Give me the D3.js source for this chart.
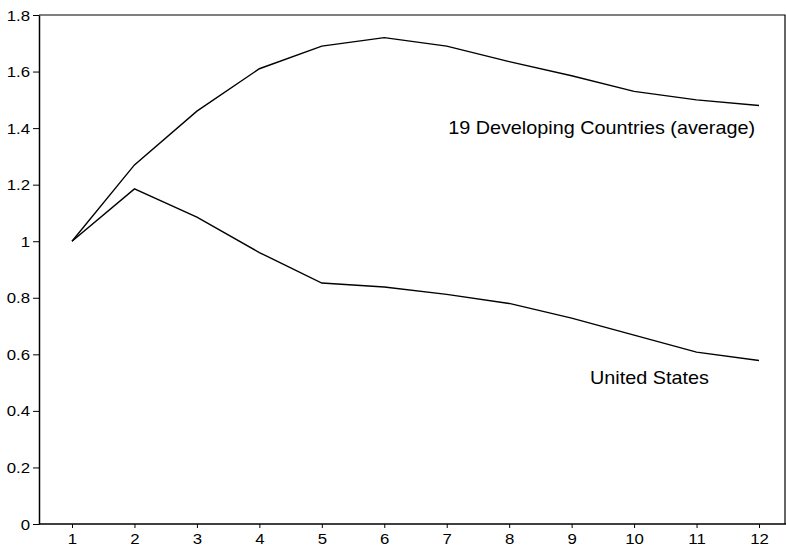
<!DOCTYPE html>
<html>
<head>
<meta charset="utf-8">
<script src="https://cdn.jsdelivr.net/npm/d3@7"></script>
<style>
  body { margin: 0; background: #fff; }
  text { font-family: "Liberation Sans", Arial, sans-serif; fill: #000; }
</style>
</head>
<body>
<div id="chart"></div>
<script>
var periods = [1, 2, 3, 4, 5, 6, 7, 8, 9, 10, 11, 12]
var developing = [1.0, 1.27, 1.46, 1.61, 1.69, 1.72, 1.69, 1.635, 1.585, 1.53, 1.50, 1.48]
var unitedStates = [1.0, 1.185, 1.085, 0.96, 0.852, 0.838, 0.812, 0.78, 0.728, 0.668, 0.608, 0.578]
var yTicks = [0, 0.2, 0.4, 0.6, 0.8, 1, 1.2, 1.4, 1.6, 1.8]
var seriesLabels = ["19 Developing Countries (average)", "United States"]

var width = 786, height = 546
var margin = {left: 39, right: 785, top: 15, bottom: 524}
var stretch = "scale(1.2,1)"

var svg = d3.select("#chart").append("svg")
    .attr("width", width)
    .attr("height", height)

var x = d3.scaleLinear().domain([1, 12]).range([72, 759])
var y = d3.scaleLinear().domain([0, 1.8]).range([margin.bottom, margin.top])

// frame (top and right side)
svg.append("path")
  .attr("d", "M" + margin.left + "," + margin.top + "H" + margin.right + "V" + margin.bottom)
  .attr("fill", "none")
  .attr("stroke", "#000")
  .attr("stroke-width", 1.2)

// y axis
var yAxis = svg.append("g")
    .attr("transform", "translate(" + margin.left + ",0)")
    .call(d3.axisLeft(y).tickValues(yTicks).tickSize(6).tickSizeOuter(0)
      .tickFormat(function(d) { return String(+d.toFixed(1)) }))
yAxis.select(".domain").attr("stroke-width", 1.5)
yAxis.selectAll("text")
    .attr("x", null).attr("dy", null)
    .attr("font-size", "14px")
    .attr("font-family", "Liberation Sans, Arial, sans-serif")
    .attr("transform", "translate(-9,5) " + stretch)

// x axis
var xAxis = svg.append("g")
    .attr("transform", "translate(0," + margin.bottom + ")")
    .call(d3.axisBottom(x).tickValues(periods).tickSize(4).tickSizeOuter(0))
xAxis.select(".domain").attr("d", "M" + margin.left + ",0H" + width).attr("stroke-width", 1.5)
xAxis.selectAll("text")
    .attr("y", null).attr("dy", null)
    .attr("font-size", "14px")
    .attr("font-family", "Liberation Sans, Arial, sans-serif")
    .attr("transform", "translate(0,20) " + stretch)

var line = d3.line()
  .x(function(d, i) { return x(periods[i]) })
  .y(function(d) { return y(d) })

svg.append("path")
  .datum(developing)
  .attr("fill", "none")
  .attr("stroke", "#000")
  .attr("stroke-width", 1.4)
  .attr("d", line)

svg.append("path")
  .datum(unitedStates)
  .attr("fill", "none")
  .attr("stroke", "#000")
  .attr("stroke-width", 1.4)
  .attr("d", line)

svg.append("text")
  .attr("transform", "translate(755,134) scale(1.1,1)")
  .attr("text-anchor", "end")
  .attr("font-size", "18px")
  .text(seriesLabels[0])

svg.append("text")
  .attr("transform", "translate(590,384) scale(1.1,1)")
  .attr("font-size", "18px")
  .text(seriesLabels[1])
</script>
</body>
</html>
